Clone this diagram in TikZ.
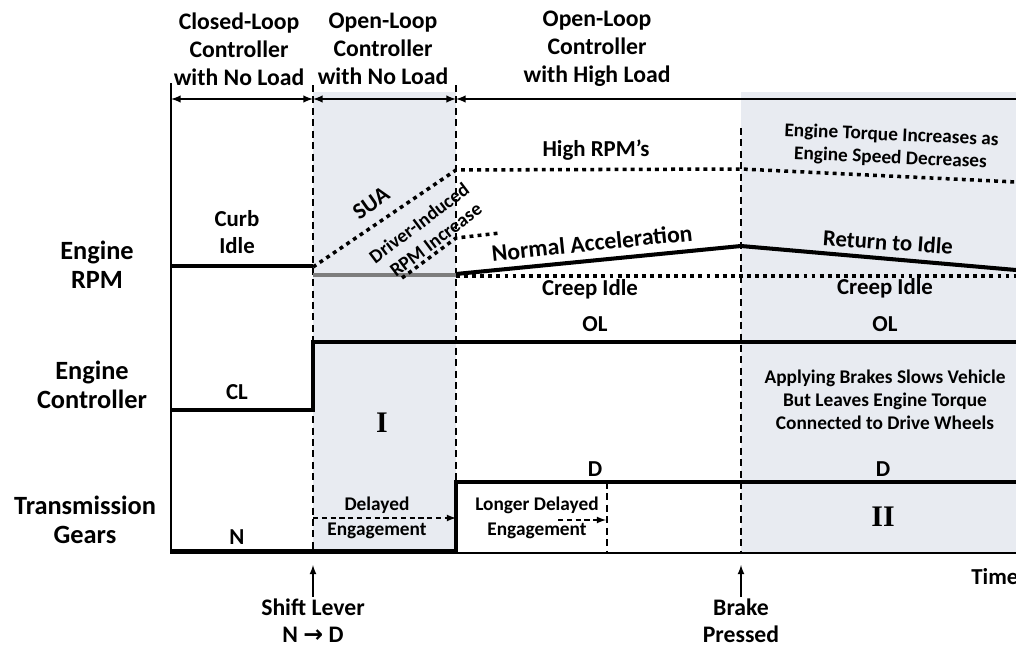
\documentclass[tikz,border=0pt]{standalone}
\usepackage{fontspec}
\setmainfont{Carlito}
\newfontfamily\numfont{Liberation Serif}
\newfontfamily\arrowfont{DejaVu Sans}
\usepackage{tikz}
\usetikzlibrary{arrows,calc}
\definecolor{phasefill}{RGB}{232,235,241}
\definecolor{idlegray}{RGB}{125,125,125}
\tikzstyle{rowlabel} = [font=\fontsize{15}{16.5}\selectfont\bfseries, align=center, inner sep=0pt]
\tikzstyle{phaselabel} = [font=\fontsize{13.5}{16}\selectfont\bfseries, align=center, inner sep=0pt]
\tikzstyle{curvetext} = [font=\fontsize{13}{15}\selectfont\bfseries, align=center, inner sep=0pt]
\tikzstyle{smalltext} = [font=\fontsize{11}{13}\selectfont\bfseries, align=center, inner sep=0pt]
\tikzstyle{numeral} = [font=\numfont\bfseries\fontsize{17}{19}\selectfont, inner sep=0pt]
\tikzstyle{trace} = [line width=2.3pt]
\tikzstyle{dotline} = [line width=2pt, dash pattern=on 2.2pt off 2.4pt]
\tikzstyle{marker} = [line width=0.8pt, dash pattern=on 4pt off 2.5pt]
\tikzstyle{span} = [line width=0.9pt, <->, >=latex]
\tikzstyle{arrow} = [line width=0.8pt, ->, >=latex]
\tikzstyle{dasharrow} = [line width=0.8pt, ->, >=latex, dash pattern=on 3pt off 2pt]

\begin{document}
\begin{tikzpicture}[x=0.02cm, y=-0.02cm]
\useasboundingbox (0,0) rectangle (1016,649);
\fill [phasefill] (313,92) rectangle (456,553);
\fill [phasefill] (741,92) rectangle (1016,553);

\node (clphase) [phaselabel] at (239,49) {Closed-Loop\\Controller\\with No Load};
\node (olphase) [phaselabel] at (383,49) {Open-Loop\\Controller\\with No Load};
\node (hlphase) [phaselabel] at (597,49) {Open-Loop\\Controller\\with High Load};

\node (rpmlabel) [rowlabel] at (97,265) {Engine\\RPM};
\node (ctrllabel) [rowlabel] at (92,385) {Engine\\Controller};
\node (gearlabel) [rowlabel] at (85,520) {Transmission\\Gears};

\draw [line width=0.8pt] (171,83) -- (171,553) -- (1016,553);
\draw [span] (171,99) -- (313,99);
\draw [span] (313,99) -- (456,99);
\draw [span, <-] (456,99) -- (1016,99);

\draw [marker] (313,85) -- (313,553);
\draw [marker] (456,85) -- (456,482);
\draw [marker] (741,128) -- (741,553);
\draw [marker] (607,482) -- (607,553);

\draw [trace] (171,266) -- (313,266);
\draw [trace, idlegray] (313,275) -- (456,275);
\draw [trace] (456,274) -- (741,246) -- (1016,270);
\draw [dotline] (456,276) -- (1016,276);
\draw [dotline] (313,267) -- (456,170) -- (741,169) -- (1016,182);
\draw [dotline] (402,278) -- (456,238) -- (500,233);
\draw [trace] (171,410) -- (313,410) -- (313,342) -- (1016,342);
\draw [trace] (171,551) -- (456,551) -- (456,482) -- (1016,482);

\node (curbidle) [curvetext] at (237,232) {Curb\\Idle};
\node (sua) [curvetext, rotate=35] at (371,203) {SUA};
\node (driver) [smalltext, rotate=37] at (419,223) {Driver-Induced};
\node (rpminc) [smalltext, rotate=37] at (436,240) {RPM Increase};
\node (highrpm) [curvetext] at (596,150) {High RPM’s};
\node (normalacc) [curvetext, font=\fontsize{13.5}{15}\selectfont\bfseries, rotate=6] at (592,243) {Normal Acceleration};
\node (returnidle) [curvetext, rotate=-4] at (888,242) {Return to Idle};
\node (torquenote) [smalltext, rotate=-2.5] at (891,147) {Engine Torque Increases as\\Engine Speed Decreases};
\node (creepa) [curvetext] at (590,289) {Creep Idle};
\node (creepb) [curvetext] at (885,288) {Creep Idle};

\node (ola) [curvetext] at (595,324) {OL};
\node (olb) [curvetext] at (885,324) {OL};
\node (cl) [curvetext] at (237,392) {CL};
\node (regiona) [numeral] at (382,423) {I};
\node (brakenote) [smalltext] at (885,400) {Applying Brakes Slows Vehicle\\But Leaves Engine Torque\\Connected to Drive Wheels};

\node (da) [curvetext] at (595,469) {D};
\node (db) [curvetext] at (883,469) {D};
\node (neutral) [curvetext] at (237,537) {N};
\node (regionb) [numeral] at (883,517) {II};
\node (delayed) [smalltext, font=\fontsize{11}{14}\selectfont\bfseries] at (377,518) {Delayed\\Engagement};
\node (longdelayed) [smalltext, font=\fontsize{11}{14}\selectfont\bfseries] at (537,518) {Longer Delayed\\Engagement};
\draw [dasharrow] (313,518) -- (456,518);
\draw [dasharrow] (558,520) -- (606,520);

\node (shiftlever) [phaselabel, font=\fontsize{13.5}{15.5}\selectfont\bfseries, inner sep=1pt] at (313,621) {Shift Lever\\N {\arrowfont\bfseries →} D};
\coordinate (shiftmark) at (313,565);
\draw [arrow] (shiftlever) -- (shiftmark);
\node (brake) [phaselabel, font=\fontsize{13.5}{15.5}\selectfont\bfseries, inner sep=1pt] at (741,621) {Brake\\Pressed};
\coordinate (brakemark) at (741,565);
\draw [arrow] (brake) -- (brakemark);
\node (timelabel) [curvetext, anchor=west] at (971,577) {Time};
\end{tikzpicture}
\end{document}
